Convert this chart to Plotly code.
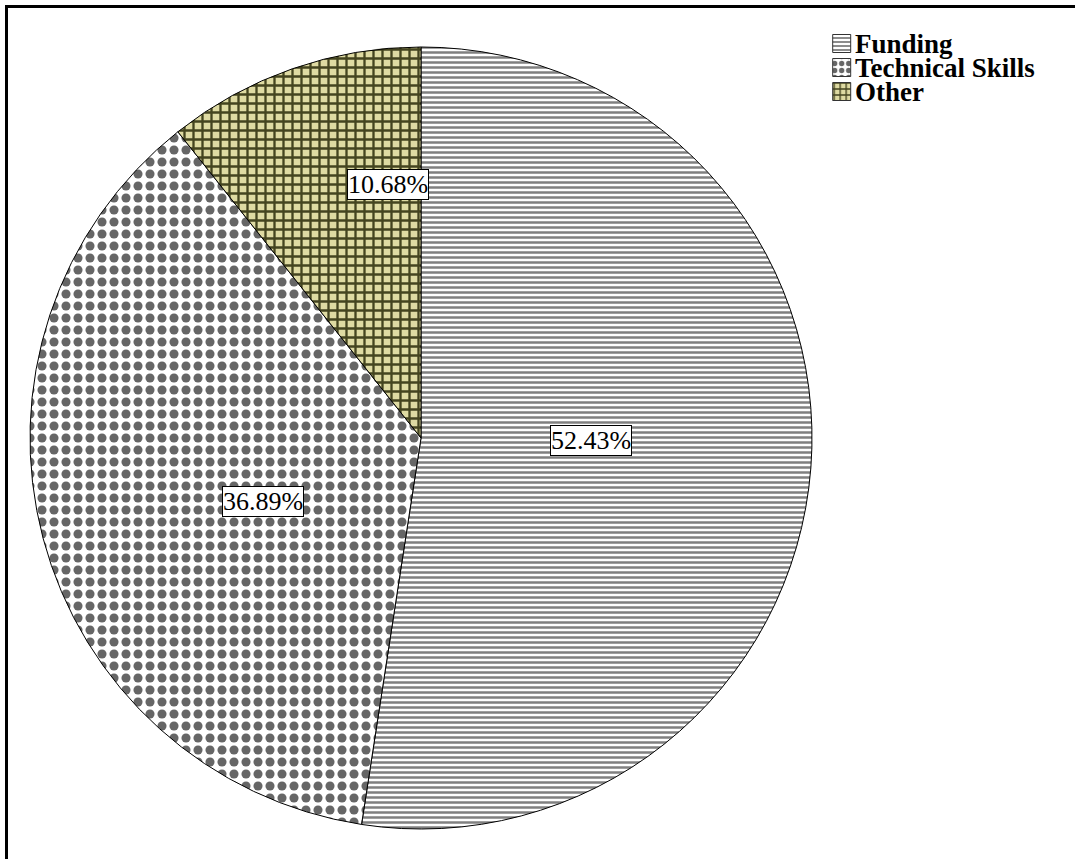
import math
import plotly.graph_objects as go

# Shares of respondents by barrier type (percent)
categories = ["Funding", "Technical Skills", "Other"]
shares = [52.43, 36.89, 10.68]
share_labels = ["52.43%", "36.89%", "10.68%"]

W, H = 1075, 859
cx, cy, r = 421, 438, 391                 # pie centre and radius in pixels
label_radius = [0.436, 0.534, 0.713]      # radial position of each boxed label
label_turn = [-3.7, -2.75, 3.9]           # small angular nudge (degrees) per label

fills = ["white", "white", "#dedaa2"]
pattern_shape = ["-", ".", "+"]
pattern_fg = ["#808080", "#666666", "#44441f"]
pattern_size = [5, 12, 9]
pattern_solid = [0.5, 0.45, 0.45]

fig = go.Figure()

fig.add_trace(
    go.Pie(
        labels=categories,
        values=shares,
        sort=False,
        direction="clockwise",
        rotation=0,
        textinfo="none",
        hoverinfo="label+percent",
        showlegend=False,
        marker=dict(
            colors=fills,
            line=dict(color="black", width=1),
            pattern=dict(
                shape=pattern_shape, bgcolor=fills, fgcolor=pattern_fg,
                size=pattern_size, solidity=pattern_solid, fillmode="replace",
            ),
        ),
        domain=dict(x=[(cx - r) / W, (cx + r) / W], y=[1 - (cy + r) / H, 1 - (cy - r) / H]),
    )
)

# Boxed percentage labels placed along each slice's angle
total = sum(shares)
start = 0.0
for val, txt, rf, turn in zip(shares, share_labels, label_radius, label_turn):
    ang = math.radians((start + val / 2) / total * 360 + turn)
    start += val
    px = cx + rf * r * math.sin(ang)
    py = cy - rf * r * math.cos(ang)
    fig.add_annotation(
        x=px / W, y=1 - py / H, xref="paper", yref="paper",
        text=txt, showarrow=False,
        font=dict(family="Liberation Serif", size=26, color="black"),
        bgcolor="white", bordercolor="black", borderwidth=1, borderpad=0,
    )

# Legend: one patterned unit bar per category serves as its swatch
leg_left, leg_top, row_h, sw = 833, 32, 24, 18
pad = 0.1  # axis padding so the swatch outlines are not clipped
swatch_size = [4, 7, 6]
swatch_solid = [0.45, 0.45, 0.4]
for i, name in enumerate(categories):
    fig.add_trace(
        go.Bar(
            y=[name], x=[1], orientation="h",
            width=sw / row_h, showlegend=False, hoverinfo="skip",
            marker=dict(
                color=fills[i],
                line=dict(color="#333333", width=1),
                pattern=dict(
                    shape=pattern_shape[i], bgcolor=fills[i], fgcolor=pattern_fg[i],
                    size=swatch_size[i], solidity=swatch_solid[i], fillmode="replace",
                ),
            ),
            xaxis="x", yaxis="y",
        )
    )
    fig.add_annotation(
        x=(leg_left + sw + 2) / W, y=1 - (leg_top + row_h * (i + 0.5)) / H,
        xref="paper", yref="paper", xanchor="left", yanchor="middle",
        text=f"<b>{name}</b>", showarrow=False,
        font=dict(family="Liberation Serif", size=27, color="black"),
    )

# Outer frame (only top and left edges fall inside the page)
fig.add_shape(
    type="rect", xref="paper", yref="paper",
    x0=6.5 / W, x1=1.2, y0=-0.2, y1=1 - 6.5 / H,
    line=dict(color="black", width=3), fillcolor="rgba(0,0,0,0)",
)

fig.update_layout(
    width=W, height=H,
    margin=dict(l=0, r=0, t=0, b=0),
    paper_bgcolor="white",
    plot_bgcolor="rgba(0,0,0,0)",
    showlegend=False,
    barmode="overlay",
    bargap=0,
    xaxis=dict(
        domain=[(leg_left - pad * sw) / W, (leg_left + sw + pad * sw) / W],
        range=[-pad, 1 + pad], visible=False, fixedrange=True,
    ),
    yaxis=dict(
        domain=[1 - (leg_top + row_h * len(categories)) / H, 1 - leg_top / H],
        range=[len(categories) - 0.5, -0.5], visible=False, fixedrange=True,
        categoryorder="array", categoryarray=categories,
    ),
)

fig.write_html("out.html")
